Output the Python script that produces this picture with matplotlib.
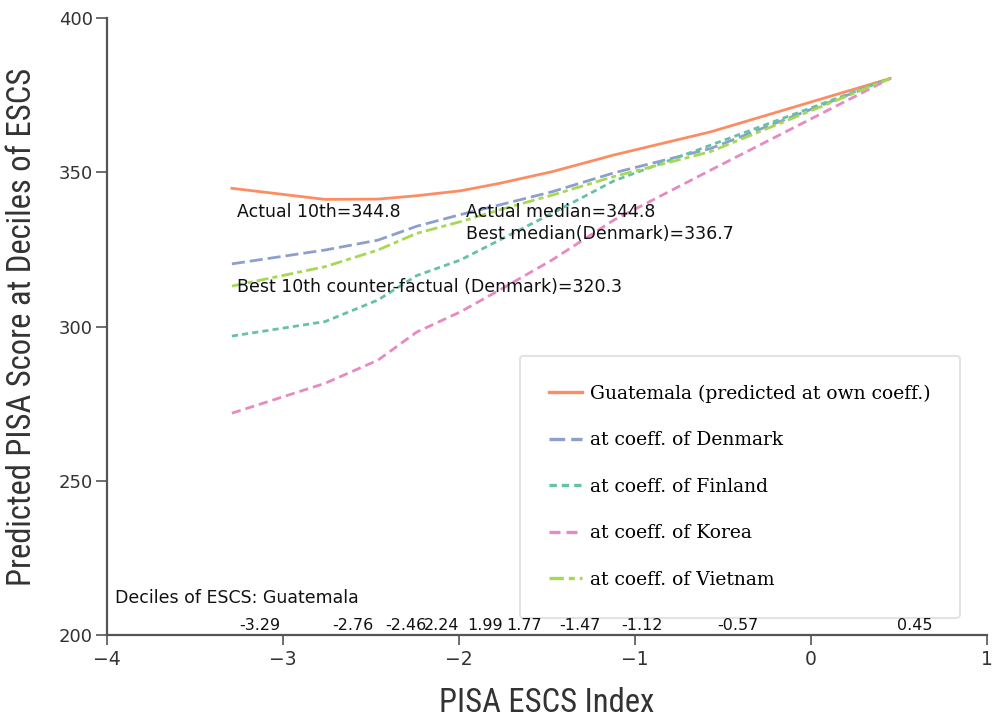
import matplotlib
matplotlib.use("Agg")
import matplotlib.pyplot as plt
from matplotlib import font_manager

# deciles of ESCS for Guatemala and predicted scores under each set of coefficients
deciles = [-3.29, -2.76, -2.46, -2.24, -1.99, -1.77, -1.47, -1.12, -0.57, 0.45]
decile_labels = ["-3.29", "-2.76", "-2.46", "2.24", "1.99", "1.77", "-1.47", "-1.12", "-0.57", "0.45"]
guatemala = [344.8, 341.2, 341.3, 342.4, 344.0, 346.4, 350.2, 355.6, 363.1, 380.4]
denmark = [320.3, 324.8, 328.0, 332.5, 336.3, 339.4, 343.7, 349.8, 357.7, 380.4]
finland = [296.9, 301.6, 308.6, 316.5, 321.6, 328.0, 336.7, 347.2, 358.8, 380.4]
korea = [271.9, 281.6, 289.1, 298.2, 304.8, 311.8, 321.6, 334.5, 350.7, 380.4]
vietnam = [313.1, 319.4, 324.8, 330.2, 334.0, 337.8, 342.6, 348.6, 356.7, 380.4]

series_labels = [
    "Guatemala (predicted at own coeff.)",
    "at coeff. of Denmark",
    "at coeff. of Finland",
    "at coeff. of Korea",
    "at coeff. of Vietnam",
]

x_ticks = [-4, -3, -2, -1, 0, 1]
y_ticks = [200, 250, 300, 350, 400]

AXIS_GREY = "#555555"


def _pick_narrow():
    """Return a condensed sans family if one is installed, else None."""
    for fam in ("Liberation Sans Narrow", "Roboto Condensed", "DejaVu Sans Condensed",
                "Noto Sans Condensed", "Open Sans Condensed"):
        try:
            font_manager.findfont(font_manager.FontProperties(family=fam),
                                  fallback_to_default=False)
            return fam
        except ValueError:
            continue
    return None


narrow = _pick_narrow()
if narrow:
    label_font, label_size = [narrow, "DejaVu Sans"], 23.5
else:
    label_font, label_size = ["DejaVu Sans"], 19

fig = plt.figure(figsize=(9.94, 7.21), dpi=100)
ax = fig.add_axes([0.1076, 0.1193, 0.8853, 0.8557])

lw = 2.0
ax.plot(deciles, guatemala, color="#fc8d62", lw=lw, ls="-", label=series_labels[0])
ax.plot(deciles, denmark, color="#8da0cb", lw=lw, ls=(0, (4.7, 1.8)), label=series_labels[1])
ax.plot(deciles, finland, color="#66c2a5", lw=lw, ls=(0, (2.2, 1.5)), label=series_labels[2])
ax.plot(deciles, korea, color="#e78ac3", lw=lw, ls=(0, (3.3, 1.8)), label=series_labels[3])
ax.plot(deciles, vietnam, color="#a6d854", lw=lw, ls=(0, (4.3, 1.5, 1.8, 1.5)),
        label=series_labels[4])

ax.set_xlim(-4, 1)
ax.set_ylim(200, 400)
ax.set_xticks(x_ticks)
ax.set_yticks(y_ticks)
ax.set_xticklabels([str(t).replace("-", "\u2212") for t in x_ticks])
ax.tick_params(axis="both", direction="out", width=1.2, color=AXIS_GREY,
               labelsize=13.5, labelcolor="#333333")
ax.tick_params(axis="x", length=7, pad=4)
ax.tick_params(axis="y", length=8, pad=2, labelsize=13)

for side in ("top", "right"):
    ax.spines[side].set_visible(False)
for side in ("left", "bottom"):
    ax.spines[side].set_color(AXIS_GREY)
    ax.spines[side].set_linewidth(1.6)

ax.set_xlabel("PISA ESCS Index", fontsize=label_size, family=label_font, color="#333333")
ax.set_ylabel("Predicted PISA Score at Deciles of ESCS", fontsize=label_size,
              family=label_font, color="#333333")
ax.xaxis.set_label_coords(0.5, -0.085)
ax.yaxis.set_label_coords(-0.078, 0.5)

# annotations
note_kw = dict(fontsize=12.5, color="#111111", va="center", ha="left")
ax.text(deciles[0] + 0.03, 337.1, "Actual 10th=%.1f" % guatemala[0], **note_kw)
ax.text(deciles[4] + 0.03, 337.1, "Actual median=%.1f" % 344.8, **note_kw)
ax.text(deciles[4] + 0.03, 330.0, "Best median(Denmark)=%.1f" % 336.7, **note_kw)
ax.text(deciles[0] + 0.03, 312.8, "Best 10th counter-factual (Denmark)=%.1f" % denmark[0], **note_kw)
ax.text(-3.955, 212.0, "Deciles of ESCS: Guatemala", **note_kw)

for xv, lab in zip(deciles, decile_labels):
    ax.text(xv + 0.04, 203.0, lab, fontsize=11.5, color="#111111", va="center", ha="left",
            zorder=6)

leg = ax.legend(loc="upper left", bbox_to_anchor=(0.469, 0.453),
                prop={"family": "DejaVu Serif", "size": 13.5},
                handlelength=1.8, handletextpad=0.4, labelspacing=1.52,
                borderpad=1.55, borderaxespad=0, frameon=True, fancybox=True)
leg.get_frame().set_edgecolor("#dddddd")
leg.get_frame().set_linewidth(1.5)
leg.set_zorder(5)
for h in leg.get_lines():
    h.set_linewidth(2.4)

fig.savefig("out.png", dpi=100, facecolor="white")
